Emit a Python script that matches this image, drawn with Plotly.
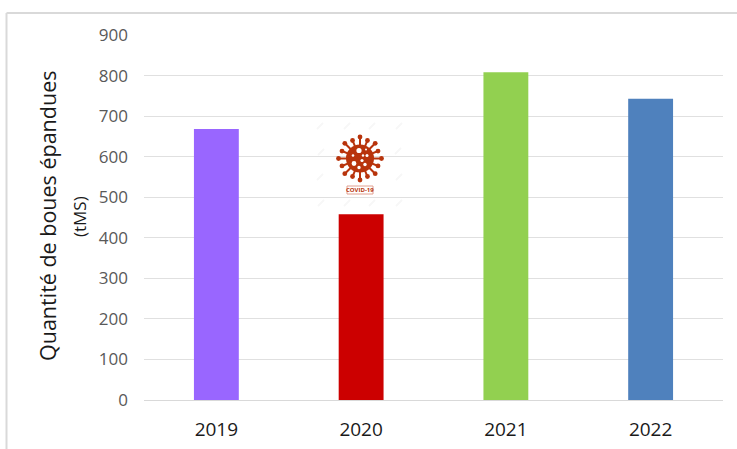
import math
import plotly.graph_objects as go

years = ["2019", "2020", "2021", "2022"]
values = [668, 458, 808, 743]
colors = ["#9966FF", "#CC0000", "#92D050", "#4F81BD"]
y_ticks = [0, 100, 200, 300, 400, 500, 600, 700, 800, 900]

W, H = 737, 449
L, R, T, B = 144, 723, 35, 400
FONT = "Open Sans"


def px(x):
    return (x - L) / (R - L)


def py(y):
    return (B - y) / (B - T)


shapes = []


def circle(cx, cy, r, color, layer="above"):
    shapes.append(dict(type="circle", xref="paper", yref="paper",
                       x0=px(cx - r), x1=px(cx + r), y0=py(cy + r), y1=py(cy - r),
                       fillcolor=color, line_width=0, layer=layer))


def seg(x0, y0, x1, y1, color, w, layer="above"):
    shapes.append(dict(type="line", xref="paper", yref="paper",
                       x0=px(x0), x1=px(x1), y0=py(y0), y1=py(y1),
                       line=dict(color=color, width=w), layer=layer))


# outer frame
seg(6.5, 13, 737, 13, "#D9D9D9", 2)
seg(6.5, 13, 6.5, 449, "#D9D9D9", 2)

# white patch behind the virus picture
shapes.append(dict(type="rect", xref="paper", yref="paper", layer="between",
                   x0=px(314), x1=px(405), y0=py(214), y1=py(119),
                   fillcolor="white", line_width=0))

# faint watermark strokes in the picture
for mx, my in [(320, 126), (347, 126), (372, 126), (399, 126),
               (321, 152), (398, 151), (320, 177), (399, 177),
               (321, 203), (347, 203), (372, 203), (399, 203)]:
    seg(mx - 3, my + 3, mx + 3, my - 3, "#F7F7F7", 2)

# virus icon
VC = "#B8340C"
cx, cy = 360, 158.5
for i in range(16):
    a = 2 * math.pi * i / 16
    rr = 21.5 if i % 2 == 0 else 19.5
    seg(cx + 12 * math.cos(a), cy + 12 * math.sin(a),
        cx + rr * math.cos(a), cy + rr * math.sin(a), VC, 2)
    circle(cx + rr * math.cos(a), cy + rr * math.sin(a), 2.4, VC)
circle(cx, cy, 14, VC)
for dx, dy, r in [(-1, -8, 2.6), (-6, 5, 2.4), (2, 2, 1.6), (7, -3, 1.5),
                  (-7, -3, 1.3), (5, 6, 1.7), (-1, 9, 1.7), (3, -3, 1.2), (6, -9, 1)]:
    circle(cx + dx, cy + dy, r, "white")

# COVID-19 label box
shapes.append(dict(type="rect", xref="paper", yref="paper",
                   x0=px(347), x1=px(373), y0=py(194), y1=py(186),
                   fillcolor="white", line=dict(color="#E0A090", width=1), layer="above"))

fig = go.Figure(go.Bar(x=years, y=values, marker=dict(color=colors, line_width=0),
                       width=0.31, hoverinfo="x+y"))

fig.update_layout(
    width=W, height=H, autosize=False,
    margin=dict(l=L, r=W - R, t=T, b=H - B, autoexpand=False),
    paper_bgcolor="white", plot_bgcolor="white",
    showlegend=False, shapes=shapes,
    font=dict(family=FONT),
    xaxis=dict(type="category", showgrid=False, ticks="", showline=True,
               linecolor="#D9D9D9", linewidth=1, ticklabelstandoff=12,
               tickfont=dict(size=19, color="#1a1a1a", family=FONT)),
    yaxis=dict(range=[0, 900], tickvals=y_ticks, showgrid=True, gridcolor="#E0E0E0",
               gridwidth=1, zeroline=False, showline=False, ticks="", ticklabelstandoff=15,
               tickfont=dict(size=17, color="#595959", family=FONT)),
    annotations=[
        dict(text="Quantité de boues épandues", textangle=-90, showarrow=False,
             xref="paper", yref="paper", x=px(47), y=py(216), xanchor="center", yanchor="middle",
             font=dict(size=21.5, color="#1a1a1a", family=FONT)),
        dict(text="(tMS)", textangle=-90, showarrow=False,
             xref="paper", yref="paper", x=px(80), y=py(217), xanchor="center", yanchor="middle",
             font=dict(size=17, color="#1a1a1a", family=FONT)),
        dict(text="<b>COVID-19</b>", showarrow=False, xref="paper", yref="paper",
             x=px(360), y=py(190), xanchor="center", yanchor="middle",
             font=dict(size=6, color="#B8340C", family=FONT)),
    ],
)

fig.write_html("out.html", config={"displayModeBar": False},
               post_script="document.body.style.margin='0';")
